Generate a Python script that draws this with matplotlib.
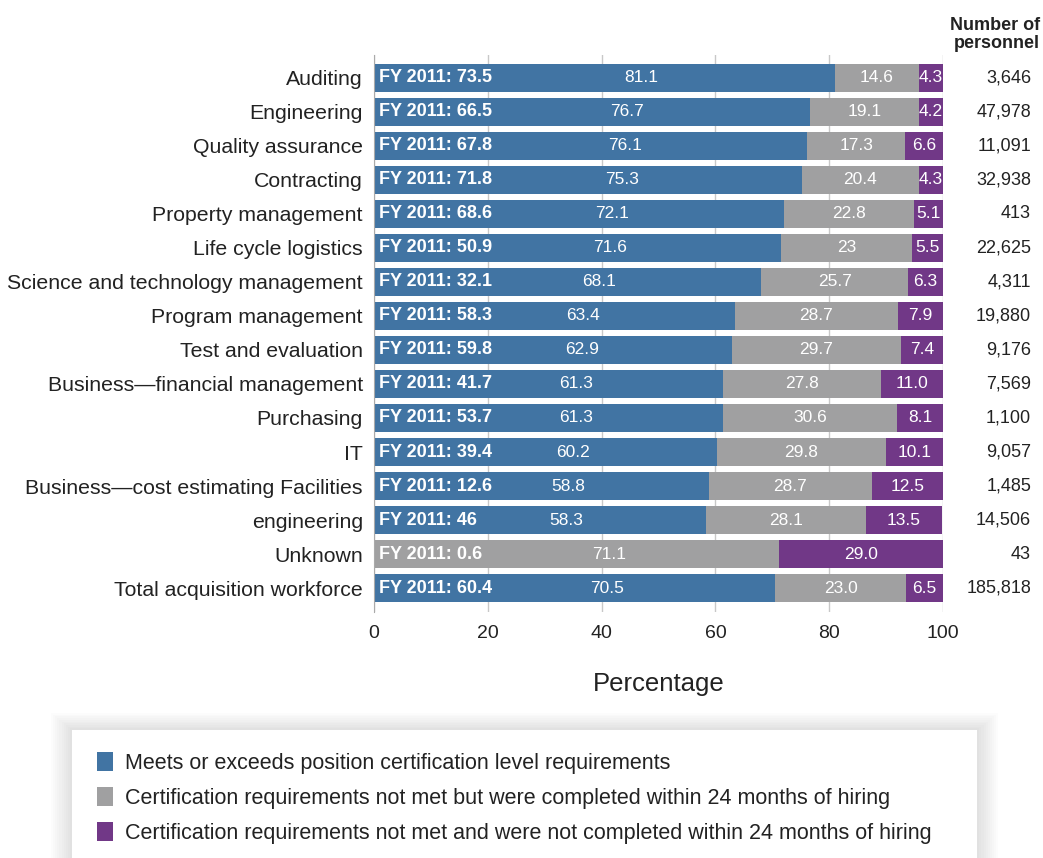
"""Acquisition workforce certification status by career field."""

import matplotlib.pyplot as plt
from matplotlib.patches import FancyBboxPatch
from matplotlib.transforms import blended_transform_factory

plt.rcParams["font.family"] = ["Liberation Sans", "DejaVu Sans"]

categories = [
    "Auditing", "Engineering", "Quality assurance", "Contracting",
    "Property management", "Life cycle logistics",
    "Science and technology management", "Program management",
    "Test and evaluation", "Business\u2014financial management", "Purchasing",
    "IT", "Business\u2014cost estimating Facilities", "engineering", "Unknown",
    "Total acquisition workforce",
]
meets = [81.1, 76.7, 76.1, 75.3, 72.1, 71.6, 68.1, 63.4, 62.9, 61.3, 61.3,
         60.2, 58.8, 58.3, 0.0, 70.5]
completed_24 = [14.6, 19.1, 17.3, 20.4, 22.8, 23.0, 25.7, 28.7, 29.7, 27.8,
                30.6, 29.8, 28.7, 28.1, 71.1, 23.0]
not_completed = [4.3, 4.2, 6.6, 4.3, 5.1, 5.5, 6.3, 7.9, 7.4, 11.0, 8.1, 10.1,
                 12.5, 13.5, 29.0, 6.5]
meets_labels = ["81.1", "76.7", "76.1", "75.3", "72.1", "71.6", "68.1", "63.4",
                "62.9", "61.3", "61.3", "60.2", "58.8", "58.3", "", "70.5"]
completed_labels = ["14.6", "19.1", "17.3", "20.4", "22.8", "23", "25.7",
                    "28.7", "29.7", "27.8", "30.6", "29.8", "28.7", "28.1",
                    "71.1", "23.0"]
not_completed_labels = ["4.3", "4.2", "6.6", "4.3", "5.1", "5.5", "6.3", "7.9",
                        "7.4", "11.0", "8.1", "10.1", "12.5", "13.5", "29.0",
                        "6.5"]
fy2011 = ["73.5", "66.5", "67.8", "71.8", "68.6", "50.9", "32.1", "58.3",
          "59.8", "41.7", "53.7", "39.4", "12.6", "46", "0.6", "60.4"]
personnel = ["3,646", "47,978", "11,091", "32,938", "413", "22,625", "4,311",
             "19,880", "9,176", "7,569", "1,100", "9,057", "1,485", "14,506",
             "43", "185,818"]
legend_labels = [
    "Meets or exceeds position certification level requirements",
    "Certification requirements not met but were completed within 24 months of hiring",
    "Certification requirements not met and were not completed within 24 months of hiring",
]

BLUE = "#4174a3"
GRAY = "#a0a0a1"
PURPLE = "#713887"

fig = plt.figure(figsize=(10.43, 8.58), dpi=100)
ax = fig.add_axes([0.3586, 0.2867, 0.5455, 0.6492])

y = list(range(len(categories)))
gray_left = meets
purple_left = [m + c for m, c in zip(meets, completed_24)]
bar_h = 0.815
b1 = ax.barh(y, meets, height=bar_h, color=BLUE, label=legend_labels[0])
b2 = ax.barh(y, completed_24, left=gray_left, height=bar_h, color=GRAY,
             label=legend_labels[1])
b3 = ax.barh(y, not_completed, left=purple_left, height=bar_h, color=PURPLE,
             label=legend_labels[2])

for i in y:
    segments = [
        (0.0, meets[i], meets_labels[i]),
        (gray_left[i], completed_24[i], completed_labels[i]),
        (purple_left[i], not_completed[i], not_completed_labels[i]),
    ]
    first = True
    for left, width, text in segments:
        if width <= 0:
            continue
        x = left + (0.58 if first else 0.5) * width
        first = False
        ax.text(x, i, text, ha="center", va="center", color="white",
                fontsize=12.5)
    ax.text(0.9, i, f"FY 2011: {fy2011[i]}", ha="left", va="center",
            color="white", fontsize=13, fontweight="bold")

# personnel column to the right of the bars
trans = blended_transform_factory(fig.transFigure, ax.transData)
for i, count in zip(y, personnel):
    ax.text(0.9885, i, count, transform=trans, ha="right", va="center",
            fontsize=13, color="#222222", clip_on=False)
fig.text(0.997, 0.96, "Number of\npersonnel", ha="right", va="center",
         fontsize=13, fontweight="bold", color="#222222", linespacing=1.05)

ax.set_xlim(0, 100)
ax.set_ylim(15.706, -0.676)
ax.set_xticks([0, 20, 40, 60, 80, 100])
ax.set_yticks(y)
ax.set_yticklabels(categories)
ax.tick_params(axis="y", length=0, pad=8, labelsize=15.3, labelcolor="#222222")
ax.tick_params(axis="x", length=0, pad=9, labelsize=14, labelcolor="#222222")
ax.grid(axis="x", color="#c8c8c8", linewidth=1)
ax.set_axisbelow(True)
for side in ["top", "right", "bottom"]:
    ax.spines[side].set_visible(False)
ax.spines["left"].set_color("#aaaaaa")
fig.text(0.632, 0.203, "Percentage", ha="center", va="center", fontsize=18.5,
         color="#222222")

# legend box with a soft shadow
box_x, box_y, box_w, box_h = 0.069, -0.05, 0.868, 0.199
for k in range(10, 0, -1):
    pad = k * 0.002
    fig.patches.append(FancyBboxPatch(
        (box_x - pad, box_y - pad), box_w + 2 * pad, box_h + 2 * pad,
        boxstyle="square,pad=0", transform=fig.transFigure,
        facecolor="#000000", edgecolor="none", alpha=0.011, zorder=0))
fig.patches.append(FancyBboxPatch(
    (box_x, box_y), box_w, box_h, boxstyle="square,pad=0",
    transform=fig.transFigure, facecolor="white", edgecolor="none", zorder=1))

fig.legend(handles=[b1, b2, b3], loc="upper left",
           bbox_to_anchor=(0.093, 0.1235), frameon=False, fontsize=15.5,
           handlelength=0.75, handleheight=1.0, handletextpad=0.55,
           labelspacing=0.6, borderpad=0, borderaxespad=0,
           labelcolor="#222222")

fig.savefig("out.png", dpi=100, facecolor="white")
